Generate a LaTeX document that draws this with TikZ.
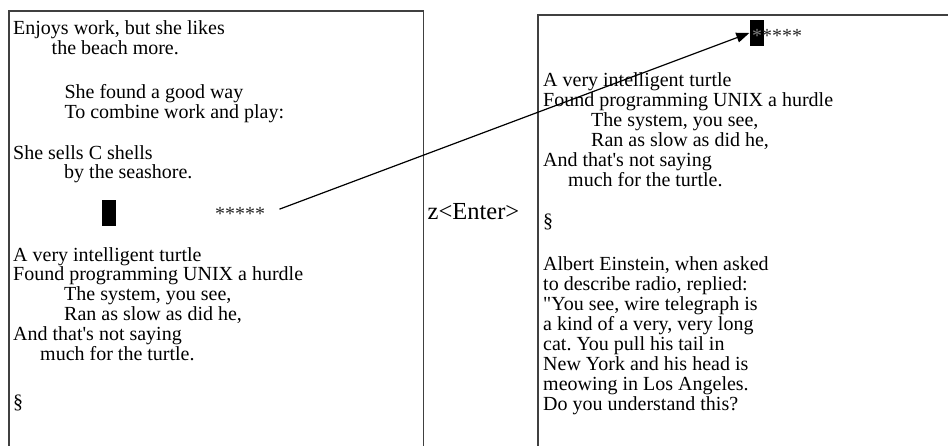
\documentclass[tikz,border=0pt]{standalone}
\usepackage{fontspec}
\setmainfont{Liberation Serif}[Ligatures=TeXOff]
\usetikzlibrary{arrows.meta}

\tikzset{
	page/.style={draw=black!75, line width=1.6pt},
	verse/.style={anchor=base west, inner sep=0pt, align=left},
	cursor/.style={fill=black, inner sep=0pt, minimum width=14pt, minimum height=26pt},
	stars/.style={anchor=base west, inner sep=0pt, text=black!85},
	pointer/.style={-{Triangle[length=13pt,width=10pt]}, line width=1.2pt, shorten <=15pt}
}

\begin{document}
\frenchspacing
\begin{tikzpicture}[
	x=1pt,
	y=-1pt,
	font=\fontsize{20}{19.9}\selectfont
	]
	\useasboundingbox (0,0) rectangle (948,446);

	% --- left: screen before z<Enter> ---
	% (verse nodes sit on the baseline of their last line)
	\draw[page] (9,446) -- (9,11) -- (423.5,11) -- (423.5,446);
	\node[verse] (enjoys) at (13,54.3)
		{Enjoys work, but she likes\\\hspace*{38.5pt}the beach more.};
	\node[verse] (found) at (64.3,118.3)
		{She found a good way\\To combine work and play:};
	\node[verse] (shells) at (13,179)
		{She sells C shells\\\hspace*{51pt}by the seashore.};
	\node[cursor] (curL) at (109,213) {};
	\node[stars] (starsL) at (215,221) {*****};
	\node[verse] (turtleL) at (13,360.5)
		{A very intelligent turtle\\Found programming UNIX a hurdle\\
		\hspace*{51pt}The system, you see,\\\hspace*{51pt}Ran as slow as did he,\\
		And that's not saying\\\hspace*{27pt}much for the turtle.};
	\node[verse] (sectL) at (13,408) {\S};

	% key pressed
	\node[anchor=base west, inner sep=0pt, font=\fontsize{24.5}{26}\selectfont]
		(zenter) at (427.5,220) {z<Enter>};

	% --- right: screen after z<Enter> ---
	\draw[page] (948,15) -- (538,15) -- (538,446);
	\node[cursor] (curR) at (756.5,33) {};
	\node[stars] (starsR) at (752,42.5) {{\color{gray}*}****};
	\node[verse] (turtleR) at (543,186.5)
		{A very intelligent turtle\\Found programming UNIX a hurdle\\
		\hspace*{48pt}The system, you see,\\\hspace*{48pt}Ran as slow as did he,\\
		And that's not saying\\\hspace*{25pt}much for the turtle.};
	\node[verse] (sectR) at (543,228) {\S};
	\node[verse] (einstein) at (543,410)
		{Albert Einstein, when asked\\to describe radio, replied:\\
		"You see, wire telegraph is\\a kind of a very, very long\\
		cat. You pull his tail in\\New York and his head is\\
		meowing in Los Angeles.\\Do you understand this?};

	% the marked line moves to the top
	\draw[pointer] (starsL.east) -- (curR.west);
\end{tikzpicture}
\end{document}
